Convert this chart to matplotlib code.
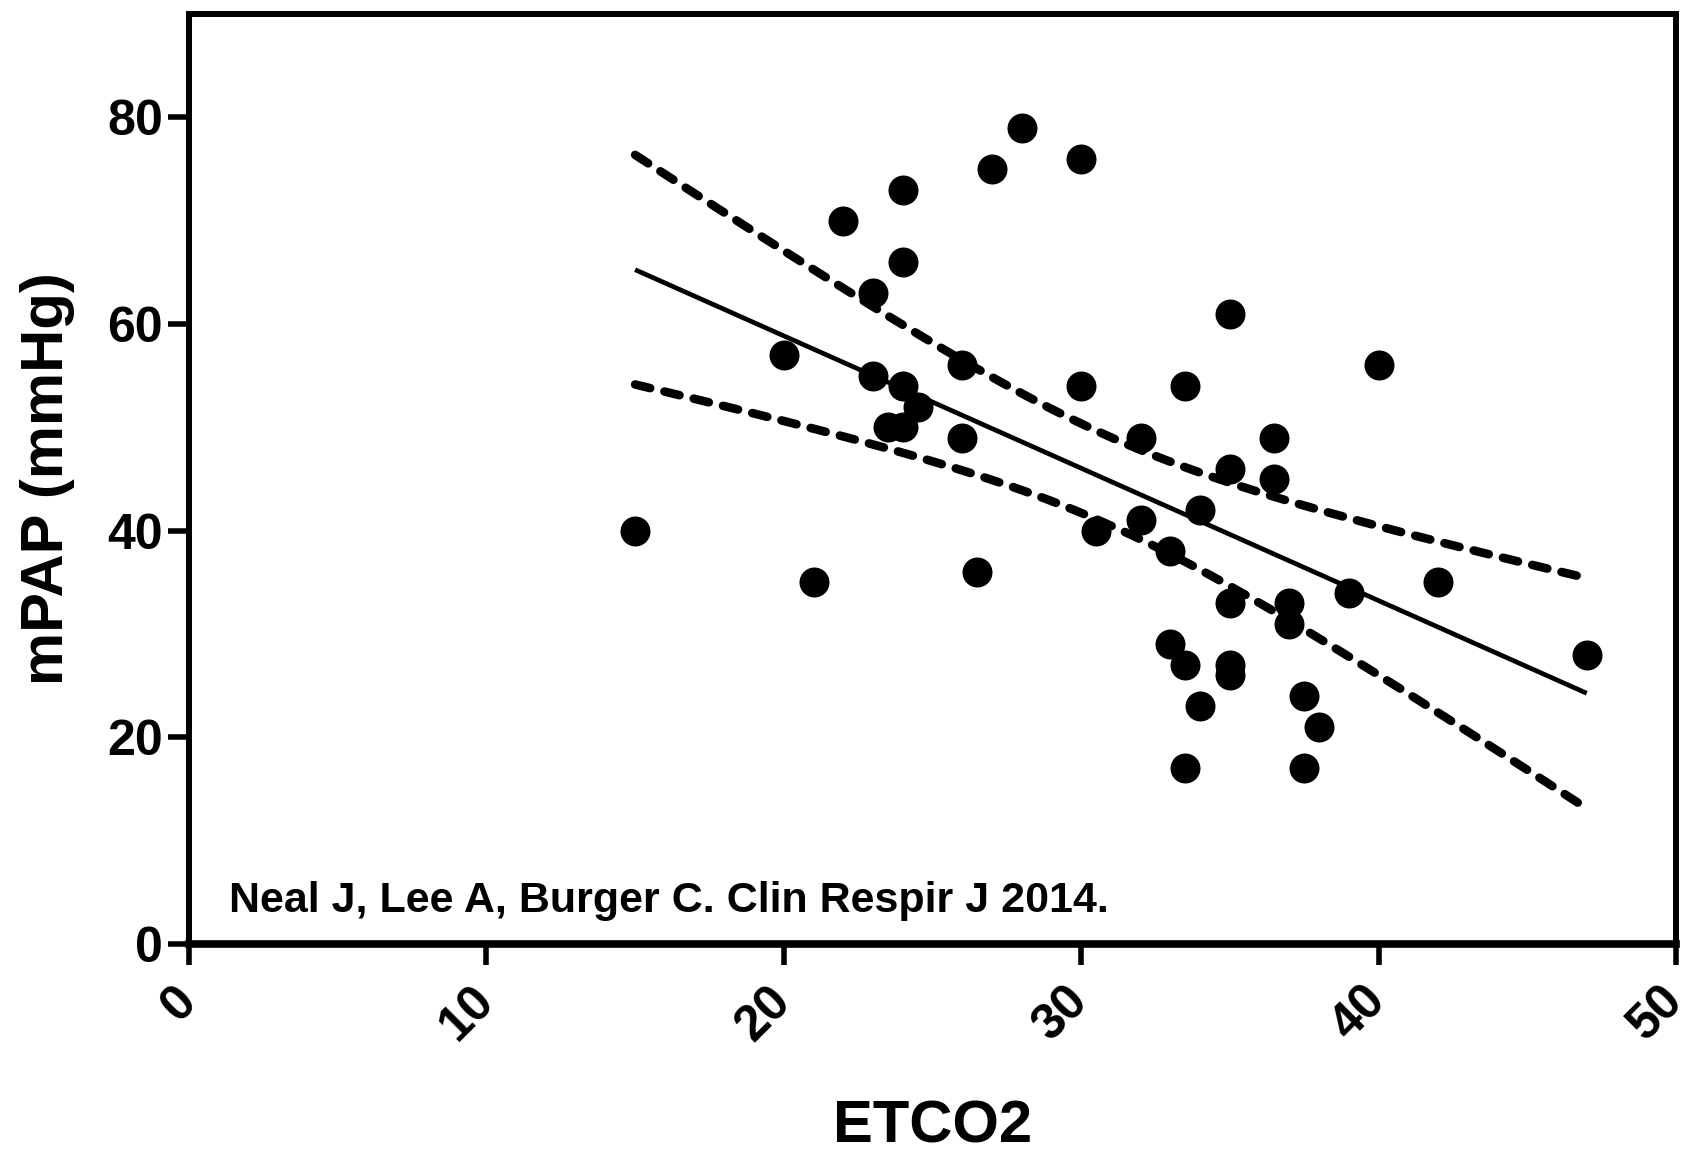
import numpy as np
import matplotlib
matplotlib.use('Agg')
import matplotlib.pyplot as plt

plt.rcParams['font.family'] = ['Liberation Sans', 'DejaVu Sans']
plt.rcParams['font.weight'] = 'bold'

# end-tidal CO2 vs mean pulmonary artery pressure, one point per patient
etco2 = [15, 20, 21, 22, 23, 23, 23.5, 24, 24, 24, 24, 24.5, 26, 26, 26.5,
         27, 28, 30, 30, 30.5, 32, 32, 33, 33, 33.5, 33.5, 33.5, 34, 34,
         35, 35, 35, 35, 35, 36.5, 36.5, 37, 37, 37.5, 37.5, 38, 39, 40, 42, 47]
mpap = [40, 57, 35, 70, 63, 55, 50, 73, 66, 54, 50, 52, 56, 49, 36,
        75, 79, 76, 54, 40, 49, 41, 38, 29, 54, 27, 17, 42, 23,
        61, 46, 33, 27, 26, 49, 45, 33, 31, 24, 17, 21, 34, 56, 35, 28]
xticks = [0, 10, 20, 30, 40, 50]
yticks = [0, 20, 40, 60, 80]
citation = 'Neal J, Lee A, Burger C. Clin Respir J 2014.'

T_CRIT = 2.017  # t(0.975, df=43)


def fit_with_band(x, y, xs):
    x, y = np.asarray(x, float), np.asarray(y, float)
    b, a = np.polyfit(x, y, 1)
    resid = y - (a + b*x)
    n = len(x)
    s = np.sqrt(np.sum(resid**2) / (n - 2))
    sxx = np.sum((x - x.mean())**2)
    yhat = a + b*xs
    half = T_CRIT * s * np.sqrt(1/n + (xs - x.mean())**2 / sxx)
    return yhat, yhat - half, yhat + half


xs = np.linspace(min(etco2), max(etco2), 200)
yhat, lo, hi = fit_with_band(etco2, mpap, xs)

fig = plt.figure(figsize=(16.82, 11.6), dpi=100)
ax = fig.add_axes([0.1124, 0.1862, 0.884, 0.8018])

ax.plot(xs, yhat, c='k', lw=3.4, solid_capstyle='butt')
for band in (lo, hi):
    ax.plot(xs, band, c='k', lw=6.2, ls=(0, (1.8, 1.7)), dash_capstyle='round')
ax.plot(etco2, mpap, 'o', c='k', ms=21.6, mew=0, clip_on=False)

ax.set_xlim(0, 50)
ax.set_ylim(0, 90)
ax.set_xticks(xticks)
ax.set_yticks(yticks)
for side in ('left', 'top', 'right'):
    ax.spines[side].set_linewidth(4.3)
ax.spines['bottom'].set_linewidth(5.5)
ax.tick_params(axis='both', width=4, length=15, labelsize=36)
ax.tick_params(axis='y', pad=4)
ax.tick_params(axis='x', pad=21)
for lab in ax.get_xticklabels():
    lab.set_rotation(45)
    lab.set_ha('right')
    lab.set_va('center')
    lab.set_rotation_mode('anchor')

ax.set_xlabel('ETCO2', fontsize=43, fontweight='bold')
ax.set_ylabel('mPAP (mmHg)', fontsize=43, fontweight='bold')
ax.xaxis.set_label_coords(0.5, -0.167)
ax.yaxis.set_label_coords(-0.077, 0.5)

ax.text(1.35, 3.1, citation, fontsize=31, fontweight='bold', va='baseline')

fig.savefig('out.png', dpi=100)
